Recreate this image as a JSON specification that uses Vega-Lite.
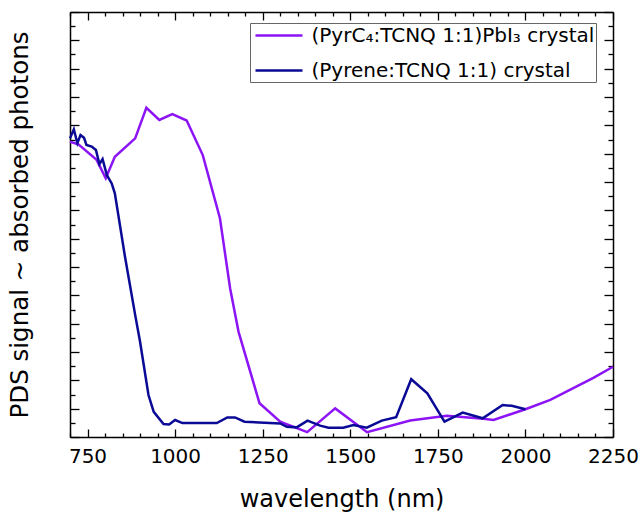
{
  "$schema": "https://vega.github.io/schema/vega-lite/v6.json",
  "width": 543,
  "height": 425,
  "autosize": {"type": "none"},
  "padding": {"left": 70, "top": 12, "right": 28, "bottom": 77},
  "background": "white",
  "config": {
    "view": {"stroke": null},
    "font": "DejaVu Sans",
    "axis": {"grid": false, "domainColor": "black", "domainWidth": 1.5, "tickColor": "black", "tickWidth": 1.3, "labelColor": "black", "titleColor": "black", "titleFontWeight": "normal", "labelFont": "DejaVu Sans", "titleFont": "DejaVu Sans"}
  },
  "data": {"values": [
    {"s": "P", "w": 700, "v": 10.42}, {"s": "P", "w": 724, "v": 10.33}, {"s": "P", "w": 776, "v": 9.78}, {"s": "P", "w": 802, "v": 9.13}, {"s": "P", "w": 828, "v": 9.89}, {"s": "P", "w": 886, "v": 10.54}, {"s": "P", "w": 918, "v": 11.62}, {"s": "P", "w": 955, "v": 11.19}, {"s": "P", "w": 992, "v": 11.40}, {"s": "P", "w": 1033, "v": 11.17}, {"s": "P", "w": 1079, "v": 9.95}, {"s": "P", "w": 1128, "v": 7.72}, {"s": "P", "w": 1157, "v": 5.25}, {"s": "P", "w": 1181, "v": 3.72}, {"s": "P", "w": 1241, "v": 1.19}, {"s": "P", "w": 1300, "v": 0.54}, {"s": "P", "w": 1377, "v": 0.17}, {"s": "P", "w": 1457, "v": 1.01}, {"s": "P", "w": 1548, "v": 0.17}, {"s": "P", "w": 1671, "v": 0.58}, {"s": "P", "w": 1776, "v": 0.75}, {"s": "P", "w": 1880, "v": 0.64}, {"s": "P", "w": 1909, "v": 0.60}, {"s": "P", "w": 2000, "v": 0.98}, {"s": "P", "w": 2071, "v": 1.31}, {"s": "P", "w": 2194, "v": 2.09}, {"s": "P", "w": 2250, "v": 2.48},
    {"s": "B", "w": 700, "v": 10.54}, {"s": "B", "w": 711, "v": 10.86}, {"s": "B", "w": 721, "v": 10.37}, {"s": "B", "w": 730, "v": 10.66}, {"s": "B", "w": 740, "v": 10.56}, {"s": "B", "w": 747, "v": 10.31}, {"s": "B", "w": 762, "v": 10.25}, {"s": "B", "w": 774, "v": 10.13}, {"s": "B", "w": 784, "v": 9.63}, {"s": "B", "w": 793, "v": 9.81}, {"s": "B", "w": 805, "v": 9.25}, {"s": "B", "w": 819, "v": 8.95}, {"s": "B", "w": 828, "v": 8.60}, {"s": "B", "w": 857, "v": 6.36}, {"s": "B", "w": 886, "v": 4.31}, {"s": "B", "w": 900, "v": 3.36}, {"s": "B", "w": 924, "v": 1.48}, {"s": "B", "w": 939, "v": 0.89}, {"s": "B", "w": 967, "v": 0.46}, {"s": "B", "w": 983, "v": 0.44}, {"s": "B", "w": 1000, "v": 0.60}, {"s": "B", "w": 1021, "v": 0.49}, {"s": "B", "w": 1119, "v": 0.49}, {"s": "B", "w": 1149, "v": 0.69}, {"s": "B", "w": 1171, "v": 0.69}, {"s": "B", "w": 1198, "v": 0.54}, {"s": "B", "w": 1300, "v": 0.48}, {"s": "B", "w": 1319, "v": 0.36}, {"s": "B", "w": 1347, "v": 0.34}, {"s": "B", "w": 1378, "v": 0.58}, {"s": "B", "w": 1414, "v": 0.40}, {"s": "B", "w": 1438, "v": 0.33}, {"s": "B", "w": 1480, "v": 0.33}, {"s": "B", "w": 1509, "v": 0.42}, {"s": "B", "w": 1547, "v": 0.33}, {"s": "B", "w": 1590, "v": 0.58}, {"s": "B", "w": 1631, "v": 0.70}, {"s": "B", "w": 1674, "v": 2.04}, {"s": "B", "w": 1720, "v": 1.54}, {"s": "B", "w": 1769, "v": 0.54}, {"s": "B", "w": 1821, "v": 0.86}, {"s": "B", "w": 1878, "v": 0.66}, {"s": "B", "w": 1935, "v": 1.13}, {"s": "B", "w": 1961, "v": 1.10}, {"s": "B", "w": 2000, "v": 0.98}
  ]},
  "layer": [
    {
      "mark": {"type": "line", "strokeWidth": 2.5},
      "encoding": {
        "x": {"field": "w", "type": "quantitative", "scale": {"domain": [700, 2250], "nice": false, "zero": false},
          "axis": {"orient": "bottom", "title": "wavelength (nm)", "titleFontSize": 24, "titlePadding": 17, "labelFontSize": 20, "labelPadding": 17, "labelFlush": false, "labelOverlap": false, "format": "d",
            "values": [700,750,800,850,900,950,1000,1050,1100,1150,1200,1250,1300,1350,1400,1450,1500,1550,1600,1650,1700,1750,1800,1850,1900,1950,2000,2050,2100,2150,2200,2250],
            "labelExpr": "datum.value % 250 === 0 ? datum.label : ''",
            "tickSize": {"condition": {"test": "datum.value % 250 === 0", "value": -8}, "value": -4}}},
        "y": {"field": "v", "type": "quantitative", "scale": {"domain": [0, 15], "nice": false},
          "axis": {"orient": "left", "title": "PDS signal ~ absorbed photons", "titleFontSize": 24.5, "titlePadding": 37, "labels": false,
            "values": [0,0.5,1,1.5,2,2.5,3,3.5,4,4.5,5,5.5,6,6.5,7,7.5,8,8.5,9,9.5,10,10.5,11,11.5,12,12.5,13,13.5,14,14.5,15],
            "tickSize": {"condition": {"test": "datum.value % 1 === 0", "value": -9}, "value": -5}}},
        "color": {"field": "s", "type": "nominal",
          "scale": {"domain": ["P", "B"], "range": ["#8C14F5", "#0A0A96"]},
          "legend": {"orient": "none", "legendX": 180, "legendY": 11, "title": null, "symbolType": "M-2.35,0H2.35", "symbolSize": 400, "symbolStrokeWidth": 2.5, "symbolOffset": 16.5, "labelFontSize": 20, "labelColor": "black", "labelFont": "DejaVu Sans", "labelOffset": 21, "rowPadding": 13, "padding": 1, "strokeColor": "#666666", "fillColor": "white", "labelLimit": 400,
            "labelExpr": "datum.value === 'P' ? '(PyrC₄:TCNQ 1:1)PbI₃ crystal' : '(Pyrene:TCNQ 1:1) crystal'"}}
      }
    },
    {
      "mark": {"type": "line", "strokeWidth": 2.5, "opacity": 0},
      "encoding": {
        "detail": {"field": "s", "type": "nominal"},
        "x": {"field": "w", "type": "quantitative",
          "axis": {"orient": "top", "title": null, "labels": false,
            "values": [700,750,800,850,900,950,1000,1050,1100,1150,1200,1250,1300,1350,1400,1450,1500,1550,1600,1650,1700,1750,1800,1850,1900,1950,2000,2050,2100,2150,2200,2250],
            "tickSize": {"condition": {"test": "datum.value % 250 === 0", "value": -8}, "value": -4}}},
        "y": {"field": "v", "type": "quantitative",
          "axis": {"orient": "right", "title": null, "labels": false,
            "values": [0,0.5,1,1.5,2,2.5,3,3.5,4,4.5,5,5.5,6,6.5,7,7.5,8,8.5,9,9.5,10,10.5,11,11.5,12,12.5,13,13.5,14,14.5,15],
            "tickSize": {"condition": {"test": "datum.value % 1 === 0", "value": -9}, "value": -5}}}
      }
    }
  ],
  "resolve": {"axis": {"x": "independent", "y": "independent"}}
}
